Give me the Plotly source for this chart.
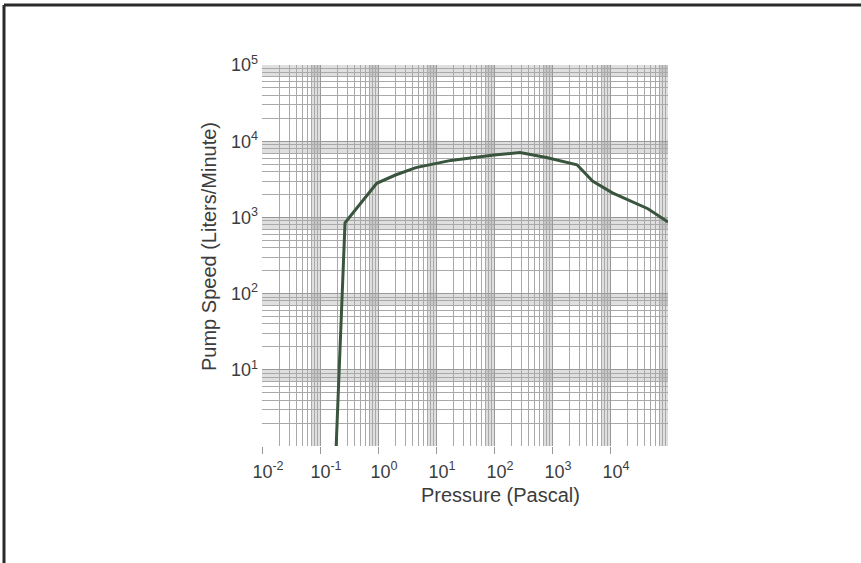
import math
import plotly.graph_objects as go

# Data
pressure_pa = [0.19, 0.27, 0.95, 2.0, 4.5, 18, 100, 280, 800, 2700, 5000, 11000, 45000, 100000]
pump_speed_lpm = [1.0, 850, 2800, 3600, 4500, 5600, 6600, 7100, 6100, 4900, 3000, 2100, 1300, 870]

x_tick_vals = [0.01, 0.1, 1, 10, 100, 1000, 10000]
x_tick_text = ["10<sup>-2</sup>", "10<sup>-1</sup>", "10<sup>0</sup>", "10<sup>1</sup>",
               "10<sup>2</sup>", "10<sup>3</sup>", "10<sup>4</sup>"]
y_tick_vals = [10, 100, 1000, 10000, 100000]
y_tick_text = ["10<sup>1</sup>", "10<sup>2</sup>", "10<sup>3</sup>", "10<sup>4</sup>", "10<sup>5</sup>"]

x_title = "Pressure (Pascal)"
y_title = "Pump Speed (Liters/Minute)"

X_RANGE = (-2, 5)
Y_RANGE = (0, 5)

W, H = 861, 563
ML, MR, MT, MB = 262, 193, 65, 117
pw = W - ML - MR
ph = H - MT - MB


def px_to_paper_x(px):
    return (px - ML) / pw


def px_to_paper_y(py):
    return (H - MB - py) / ph


fig = go.Figure()
fig.add_trace(go.Scatter(
    x=pressure_pa, y=pump_speed_lpm, mode="lines",
    line=dict(color="#3a553d", width=3), hoverinfo="skip", showlegend=False,
))

shapes = []
band_fill = "rgba(120,120,120,0.24)"
# graph-paper shading bands (7..10 of each decade)
for k in range(X_RANGE[0], X_RANGE[1]):
    a = (math.log10(7 * 10 ** k) - X_RANGE[0]) / (X_RANGE[1] - X_RANGE[0])
    b = (k + 1 - X_RANGE[0]) / (X_RANGE[1] - X_RANGE[0])
    shapes.append(dict(type="rect", xref="paper", yref="paper", x0=a, x1=b, y0=0, y1=1,
                       fillcolor=band_fill, line=dict(width=0), layer="below"))
for k in range(Y_RANGE[0], Y_RANGE[1]):
    a = (math.log10(7 * 10 ** k) - Y_RANGE[0]) / (Y_RANGE[1] - Y_RANGE[0])
    b = (k + 1 - Y_RANGE[0]) / (Y_RANGE[1] - Y_RANGE[0])
    shapes.append(dict(type="rect", xref="paper", yref="paper", x0=0, x1=1, y0=a, y1=b,
                       fillcolor=band_fill, line=dict(width=0), layer="below"))

# outer frame (top and left edges)
fx0 = px_to_paper_x(4)
fy_top = px_to_paper_y(5)
shapes.append(dict(type="line", xref="paper", yref="paper", x0=fx0, x1=px_to_paper_x(W + 20),
                   y0=fy_top, y1=fy_top, line=dict(color="#2a2a2a", width=3)))
shapes.append(dict(type="line", xref="paper", yref="paper", x0=fx0, x1=fx0,
                   y0=fy_top, y1=px_to_paper_y(H + 20), line=dict(color="#2a2a2a", width=3)))

grid_col = "#a9a9a9"
font_fam = "Liberation Sans, Arial, Helvetica, sans-serif"
txt_col = "#3c3c3c"

annotations = [
    dict(text=x_title, xref="paper", yref="paper", x=px_to_paper_x(500), y=px_to_paper_y(495),
         xanchor="center", yanchor="middle", showarrow=False,
         font=dict(size=20, color=txt_col, family=font_fam)),
    dict(text=y_title, xref="paper", yref="paper", x=px_to_paper_x(209), y=px_to_paper_y(247),
         xanchor="center", yanchor="middle", showarrow=False, textangle=-90,
         font=dict(size=20, color=txt_col, family=font_fam)),
]

fig.update_layout(
    width=W, height=H,
    margin=dict(l=ML, r=MR, t=MT, b=MB, autoexpand=False),
    paper_bgcolor="white", plot_bgcolor="white",
    font=dict(family=font_fam, color=txt_col, size=16),
    shapes=shapes,
    annotations=annotations,
    xaxis=dict(
        type="log", range=list(X_RANGE),
        tickvals=x_tick_vals, ticktext=x_tick_text,
        showgrid=True, gridcolor="#999999", gridwidth=1,
        minor=dict(dtick="D1", showgrid=True, gridcolor=grid_col, gridwidth=1),
        ticks="outside", ticklen=7, tickcolor="#999999",
        ticklabelshift=6, ticklabelstandoff=2,
        showline=False, zeroline=False,
        tickfont=dict(size=18, color=txt_col),
    ),
    yaxis=dict(
        type="log", range=list(Y_RANGE),
        tickvals=y_tick_vals, ticktext=y_tick_text,
        showgrid=True, gridcolor="#999999", gridwidth=1,
        minor=dict(dtick="D1", showgrid=True, gridcolor=grid_col, gridwidth=1),
        ticks="", ticklen=0, ticklabelstandoff=3,
        showline=False, zeroline=False,
        tickfont=dict(size=18, color=txt_col),
    ),
)

fig.write_html("out.html", config={"displayModeBar": False},
               post_script="document.body.style.margin='0';document.body.style.overflow='hidden';")
